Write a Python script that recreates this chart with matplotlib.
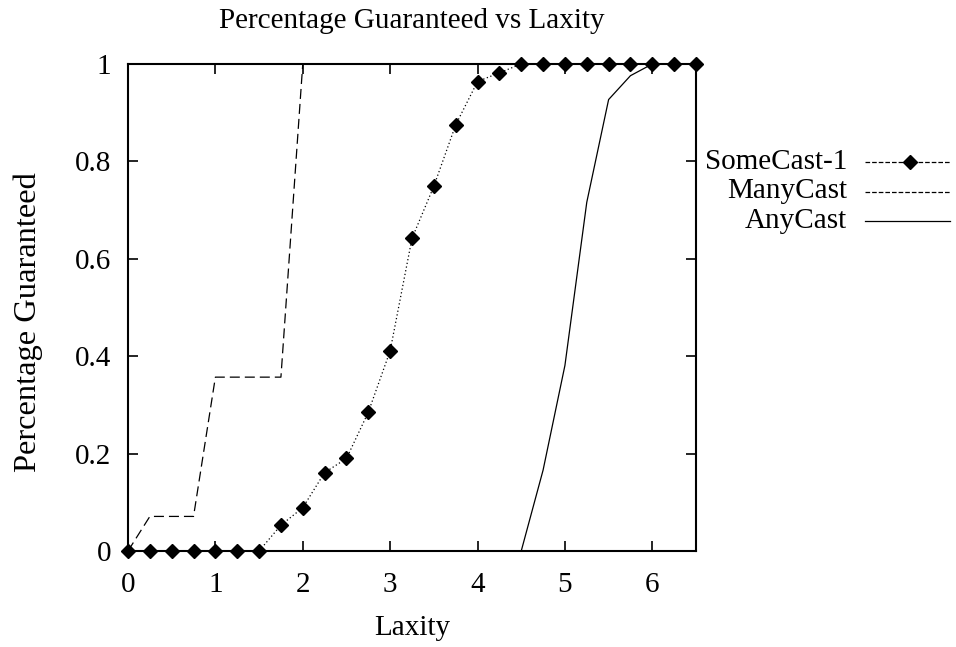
import numpy as np
import matplotlib
matplotlib.use("Agg")
import matplotlib.pyplot as plt
from matplotlib.lines import Line2D

plt.rcParams['font.family'] = ['Liberation Serif', 'DejaVu Serif']
plt.rcParams['font.size'] = 21

# SomeCast-1 sampled every 0.25 of laxity
some_x = np.arange(27) * 0.25
some_y = [0, 0, 0, 0, 0, 0, 0, 0.053, 0.089, 0.161, 0.190, 0.285, 0.411,
          0.642, 0.749, 0.875, 0.964, 0.982, 1, 1, 1, 1, 1, 1, 1, 1, 1]

many_x = [0, 0.25, 0.75, 1.0, 1.75, 2.0]
many_y = [0, 0.071, 0.071, 0.357, 0.357, 1.0]

any_x = [4.5, 4.75, 5.0, 5.25, 5.5, 5.75, 6.0, 6.25, 6.5]
any_y = [0, 0.166, 0.381, 0.716, 0.927, 0.976, 1.0, 1.0, 1.0]

labels = ['SomeCast-1', 'ManyCast', 'AnyCast']

W, H = 956, 647
fig = plt.figure(figsize=(W / 100, H / 100), dpi=100)
ax = fig.add_axes([128 / W, 1 - 551 / H, (696 - 128) / W, (551 - 64) / H])

l1, = ax.plot(some_x, some_y, color='black', lw=0.9, ls=(0, (1, 2)),
              marker='D', ms=7, clip_on=False, zorder=4)
l2, = ax.plot(many_x, many_y, color='black', lw=0.9, ls=(0, (8, 4)))
l3, = ax.plot(any_x, any_y, color='black', lw=0.9, ls='-')

ax.set_xlim(0, 6.5)
ax.set_ylim(0, 1)
ax.set_xticks(range(7))
ax.set_yticks([0, 0.2, 0.4, 0.6, 0.8, 1.0])
ax.set_yticklabels(['0', '0.2', '0.4', '0.6', '0.8', '1'])
ax.tick_params(direction='in', length=7.2, width=1.2, top=True, right=True)
ax.tick_params(axis='x', pad=15)
ax.tick_params(axis='y', pad=12)
for s in ax.spines.values():
    s.set_linewidth(1.5)

ax.set_title('Percentage Guaranteed vs Laxity', fontsize=21, pad=26)
ax.set_xlabel('Laxity')
ax.xaxis.label.set_va('baseline')
ax.xaxis.set_label_coords(0.5, -0.1725)
ax.set_ylabel('Percentage Guaranteed', fontsize=23.4)
ax.yaxis.set_label_coords(-0.15, 0.47)

# gnuplot style key: right-aligned text, sample to its right
handles = [l1, l2, l3]
for i, (h, lab) in enumerate(zip(handles, labels)):
    ypx = 162 + 29.5 * i
    yf = 1 - ypx / H
    fig.text(847 / W, yf, lab, ha='right', va='center')
    fig.add_artist(Line2D([865 / W, 950 / W], [yf, yf], color='black',
                          lw=0.9, ls=h.get_linestyle()))
    if i == 0:
        fig.add_artist(Line2D([910 / W], [yf], color='black', marker='D', ms=7))

fig.savefig('out.png', dpi=100)
